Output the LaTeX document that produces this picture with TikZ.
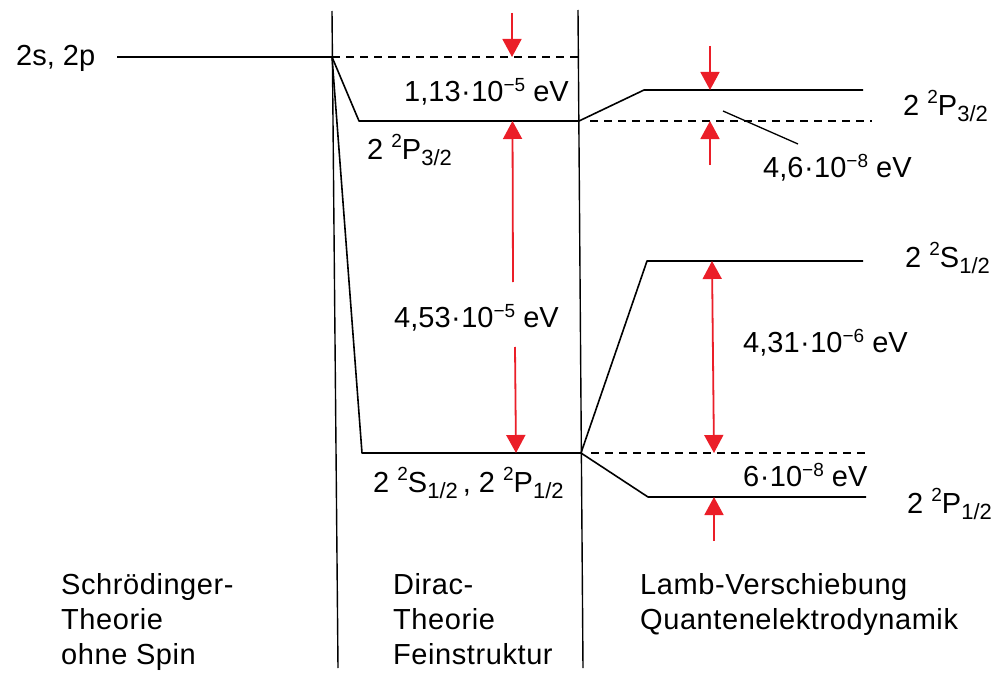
\documentclass[tikz,border=0pt]{standalone}
\usepackage{fontspec}
\setmainfont{Liberation Sans}
\usetikzlibrary{arrows.meta}
\definecolor{arrred}{RGB}{235,30,40}
\newcommand\supx[1]{\raisebox{12pt}{\fontsize{19}{19}\selectfont #1}}
\newcommand\subx[1]{\raisebox{-6pt}{\fontsize{22}{22}\selectfont #1}}
\newcommand\pwr[1]{\raisebox{10pt}{\fontsize{19}{19}\selectfont #1}}
\newcommand\cdt{\kern0.5pt·\kern0.5pt}
\begin{document}
\begin{tikzpicture}[x=1pt,y=-1pt,
  level/.style={line width=1.6pt, black, line join=round},
  sep/.style={line width=1.4pt, black},
  dashlvl/.style={line width=1.2pt, black, dash pattern=on 8pt off 6pt},
  redarr/.style={line width=1.8pt, arrred, -{Triangle[width=19pt,length=18pt]}},
  lead/.style={line width=1.3pt, black},
  lbl/.style={font=\fontsize{29}{35}\selectfont, inner sep=0pt, anchor=base west},
  captxt/.style={lbl, font=\fontsize{29}{35}\selectfont\addfontfeature{LetterSpace=2}}]
\useasboundingbox (0,0) rectangle (1005,677);
\fill[white] (0,0) rectangle (1005,677);

% separators
\coordinate (sepAtop) at (332,11);
\coordinate (sepAbot) at (338,668);
\coordinate (sepBtop) at (578,10);
\coordinate (sepBbot) at (583,668);
\draw[sep] (sepAtop) -- (sepAbot);
\draw[sep] (sepBtop) -- (sepBbot);

% Schroedinger level
\coordinate (sL) at (117,57);
\coordinate (sR) at (332,57);
\draw[level] (sL) -- (sR);
\node[lbl] (t2s) at (16,66) {2s, 2p};

% Dirac levels
\coordinate (dPk) at (359,121);
\coordinate (dPr) at (579,121);
\coordinate (dSk) at (362,453);
\coordinate (dSr) at (581,453);
\coordinate (dDr) at (578,57);
\draw[level] (sR) -- (dPk) -- (dPr);
\draw[level] (sR) -- (dSk) -- (dSr);
\draw[dashlvl] (sR) -- (dDr);

% Lamb levels
\coordinate (lPk) at (644,90);
\coordinate (lPr) at (863,90);
\coordinate (lSk) at (647,261);
\coordinate (lSr) at (863,261);
\coordinate (lQk) at (648,497);
\coordinate (lQr) at (866,497);
\coordinate (lD1a) at (590,121);
\coordinate (lD1b) at (872,121);
\coordinate (lD2a) at (591,453);
\coordinate (lD2b) at (867,453);
\draw[level] (dPr) -- (lPk) -- (lPr);
\draw[level] (dSr) -- (lSk) -- (lSr);
\draw[level] (dSr) -- (lQk) -- (lQr);
\draw[dashlvl] (lD1a) -- (lD1b);
\draw[dashlvl] (lD2a) -- (lD2b);

% red arrows, Dirac
\coordinate (a1s) at (512,13);
\coordinate (a1e) at (512,57);
\draw[redarr] (a1s) -- (a1e);
\coordinate (a2u) at (513,282);
\coordinate (a2ue) at (512.5,121);
\coordinate (a2d) at (515,347);
\coordinate (a2de) at (516,453);
\draw[redarr] (a2u) -- (a2ue);
\draw[redarr] (a2d) -- (a2de);

% red arrows, Lamb
\coordinate (a3s) at (710,46);
\coordinate (a3e) at (710,90);
\draw[redarr] (a3s) -- (a3e);
\coordinate (a4s) at (710,165);
\coordinate (a4e) at (710,121);
\draw[redarr] (a4s) -- (a4e);
\coordinate (a5t) at (712,261);
\coordinate (a5b) at (714,453);
\draw[redarr, {Triangle[width=19pt,length=18pt]}-{Triangle[width=19pt,length=18pt]}] (a5t) -- (a5b);
\coordinate (a6s) at (714,541);
\coordinate (a6e) at (714,497);
\draw[redarr] (a6s) -- (a6e);

% leader
\coordinate (ld1) at (723,111);
\coordinate (ld2) at (798,144);
\draw[lead] (ld1) -- (ld2);

% labels Dirac
\node[lbl] (t113) at (404,102) {1,13\cdt 10\pwr{−5} eV};
\node[lbl] (tdP) at (367,159) {2 \supx{2}P\subx{3/2}};
\node[lbl] (t453) at (394,327) {4,53\cdt 10\pwr{−5} eV};
\node[lbl] (tdS) at (373,492) {2 \supx{2}S\subx{1/2}\kern5pt, 2 \supx{2}P\subx{1/2}};

% labels Lamb
\node[lbl] (tlP) at (903,115) {2 \supx{2}P\subx{3/2}};
\node[lbl] (t46) at (763,177) {4,6\cdt 10\pwr{−8} eV};
\node[lbl] (tlS) at (905,267) {2 \supx{2}S\subx{1/2}};
\node[lbl] (t431) at (743,352) {4,31\cdt 10\pwr{−6} eV};
\node[lbl] (t6) at (743,486) {6\cdt 10\pwr{−8} eV};
\node[lbl] (tlQ) at (907,513) {2 \supx{2}P\subx{1/2}};

% bottom captions
\node[captxt] (c1a) at (61,594) {Schrödinger-};
\node[captxt] (c1b) at (61,629) {Theorie};
\node[captxt] (c1c) at (61,664) {ohne Spin};
\node[captxt] (c2a) at (393,594) {Dirac-};
\node[captxt] (c2b) at (393,629) {Theorie};
\node[captxt] (c2c) at (393,664) {Feinstruktur};
\node[captxt] (c3a) at (640,594) {Lamb-Verschiebung};
\node[captxt] (c3b) at (640,629) {Quantenelektrodynamik};
\end{tikzpicture}
\end{document}
